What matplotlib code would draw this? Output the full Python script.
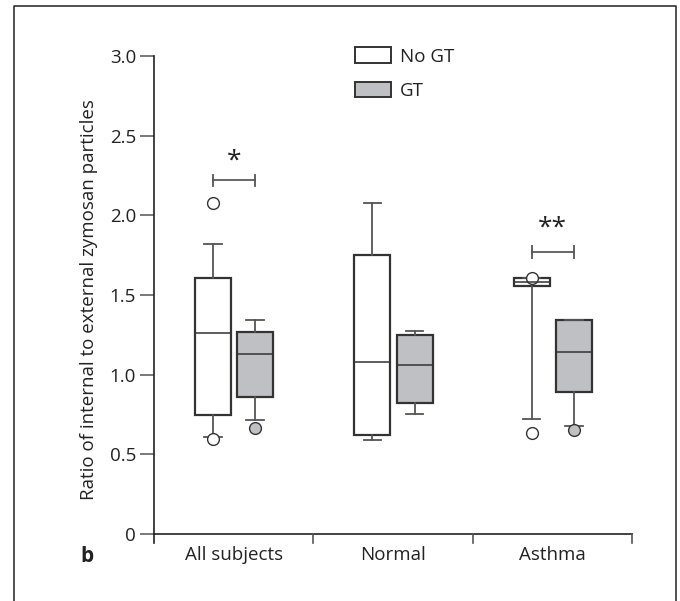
import matplotlib
matplotlib.use("Agg")
import matplotlib.pyplot as plt
from matplotlib.lines import Line2D
from matplotlib.patches import Rectangle

plt.rcParams['font.family'] = ['Open Sans', 'DejaVu Sans']

categories = ["All subjects", "Normal", "Asthma"]
groups = ["No GT", "GT"]

# box statistics per category: [No GT, GT]
q1 = [[0.744, 0.858], [0.619, 0.823], [1.556, 0.89]]
med = [[1.26, 1.131], [1.081, 1.0625], [1.58, 1.14]]
q3 = [[1.604, 1.267], [1.75, 1.25], [1.606, 1.34]]
whislo = [[0.61, 0.714], [0.5875, 0.752], [0.723, 0.677]]
whishi = [[1.82, 1.34], [2.077, 1.275], [1.606, 1.34]]
fliers = [[[2.077, 0.594], [0.665]], [[], []], [[1.606, 0.631], [0.652]]]

sig_labels = ["*", "", "**"]
sig_bracket = [2.22, None, 1.77]
sig_text = [2.34, None, 1.92]

fill_colors = ["white", "#bfc0c3"]
edge = "#333333"
whisk = "#555555"
FS = 13.5

fig = plt.figure(figsize=(6.8, 6.01), dpi=100)
ax = fig.add_axes([154/680, 1-543/601, (632-154)/680, (543-56)/601])

offsets = [-0.13, 0.135]
width = 0.226
for ci in range(len(categories)):
    for gi in range(len(groups)):
        st = dict(med=med[ci][gi], q1=q1[ci][gi], q3=q3[ci][gi],
                  whislo=whislo[ci][gi], whishi=whishi[ci][gi],
                  fliers=fliers[ci][gi])
        ax.bxp([st], positions=[ci + offsets[gi]], widths=width,
               capwidths=0.11, patch_artist=True, showfliers=True,
               boxprops=dict(facecolor=fill_colors[gi], edgecolor=edge, linewidth=1.6),
               medianprops=dict(color=edge, linewidth=1.1),
               whiskerprops=dict(color=whisk, linewidth=1.3),
               capprops=dict(color=whisk, linewidth=1.3),
               flierprops=dict(marker='o', markersize=8.5,
                               markerfacecolor=fill_colors[gi],
                               markeredgecolor=edge, markeredgewidth=1.0),
               manage_ticks=False, zorder=3)

# significance brackets
for ci in range(len(categories)):
    if sig_bracket[ci] is None:
        continue
    x0, x1 = ci + offsets[0], ci + offsets[1]
    y = sig_bracket[ci]
    ax.plot([x0, x1], [y, y], color="#666666", lw=1.4)
    for xx in (x0, x1):
        ax.plot([xx, xx], [y - 0.035, y + 0.035], color="#555555", lw=1.3)
    ax.text((x0 + x1) / 2, sig_text[ci], sig_labels[ci], ha='center', va='center',
            fontsize=19, color="#222222")

ybot = -9/159.3
ax.set_xlim(-0.5, 2.5)
ax.set_ylim(ybot, 3.0)
for s in ["top", "right", "bottom"]:
    ax.spines[s].set_visible(False)
ax.spines["left"].set_bounds(ybot, 3.0)
ax.spines["left"].set_color("#222222")
ax.spines["left"].set_linewidth(1.2)

# x axis line and separators
ax.plot([-0.5, 2.5], [0, 0], color="#222222", lw=1.2, clip_on=False)
for xb in [0.5, 1.5, 2.5]:
    ax.plot([xb, xb], [0, ybot], color="#555555", lw=1.2, clip_on=False)

ax.set_yticks([0, 0.5, 1.0, 1.5, 2.0, 2.5, 3.0])
ax.set_yticklabels(["0", "0.5", "1.0", "1.5", "2.0", "2.5", "3.0"])
ax.tick_params(axis='y', direction='out', length=10, width=1.1, color="#555555",
               labelsize=FS, labelcolor="#222222", pad=3)
ax.set_xticks(range(len(categories)))
ax.set_xticklabels(categories)
ax.tick_params(axis='x', length=0, labelsize=FS, labelcolor="#222222", pad=2)

ax.set_ylabel("Ratio of internal to external zymosan particles", fontsize=FS,
              color="#222222", labelpad=8)

# legend
handles = [Rectangle((0, 0), 1, 1, facecolor=fill_colors[i], edgecolor=edge, linewidth=1.4)
           for i in range(2)]
leg = ax.legend(handles, groups, loc='upper left', bbox_to_anchor=(0.40, 1.037),
                frameon=False, fontsize=FS, handlelength=1.95, handleheight=0.9,
                labelspacing=0.85, handletextpad=0.45, borderpad=0)
for t in leg.get_texts():
    t.set_color("#222222")

fig.text(80/680, 1-556/601, "b", fontsize=15, fontweight='bold', ha='left', va='center',
         color="#222222")

# outer frame (open at the bottom)
fig.add_artist(Line2D([14/680, 14/680, 676/680, 676/680],
                      [0, 1-6/601, 1-6/601, 0], transform=fig.transFigure,
                      color="#333333", lw=1.2))

fig.savefig("out.png", dpi=100)
